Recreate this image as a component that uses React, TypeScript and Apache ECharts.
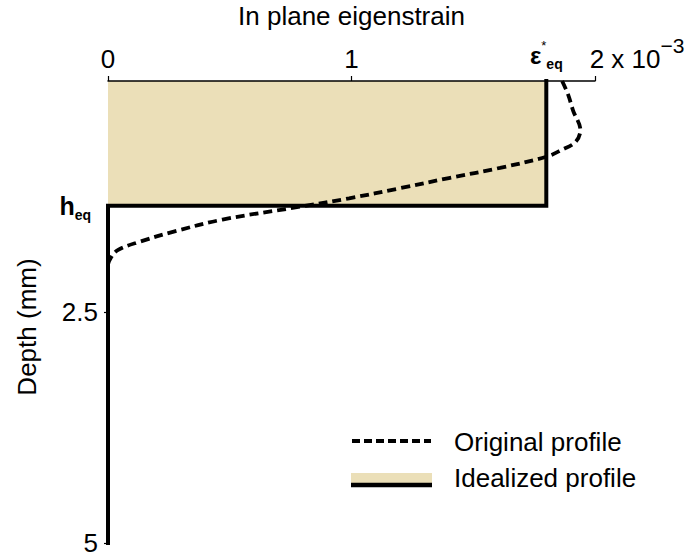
import React, { useEffect, useRef } from "react";
import * as echarts from "echarts";

// Original (measured) eigenstrain profile, in units of 1e-3, against depth in mm
const ORIGINAL_DEPTH = [0, 0.15, 0.32, 0.53, 0.66, 0.75, 0.82, 0.94, 1.05, 1.16, 1.27, 1.36, 1.5, 1.63, 1.74, 1.83, 1.92, 2.0, 5];
const ORIGINAL_EPS = [1.865, 1.89, 1.91, 1.94, 1.92, 1.86, 1.8, 1.61, 1.4, 1.2, 0.99, 0.79, 0.47, 0.27, 0.13, 0.04, 0.01, 0, 0];

// Idealized step profile: eps_eq down to h_eq, zero below
const EPS_EQ = 1.8;
const H_EQ = 1.35;
const IDEAL_EPS = [EPS_EQ, EPS_EQ, 0, 0];
const IDEAL_DEPTH = [0, H_EQ, H_EQ, 5];

// Axis ranges / tick steps
const X_MIN = 0;
const X_MAX = 2;
const X_STEP = 1;
const Y_MIN = 0;
const Y_MAX = 5;
const Y_STEP = 2.5;

const LEGEND_LABELS = ["Original profile", "Idealized profile"];

const FONT = "'Liberation Sans', Arial, Helvetica, sans-serif";
const FS = 26;
const FILL = "#EBDFB8";

export default function App() {
  const ref = useRef<HTMLDivElement>(null);

  useEffect(() => {
    if (!ref.current) return;
    const chart = echarts.init(ref.current, undefined, { renderer: "svg" });

    const idealData = IDEAL_EPS.map((e, i) => {
      const item: any = { value: [e, IDEAL_DEPTH[i]] };
      if (i === 0) {
        item.label = {
          show: true,
          position: "top",
          distance: 10,
          formatter: "{e|ε}{s|*}{q|eq}",
          rich: {
            e: { fontSize: 24, fontWeight: "bold", color: "#000", fontFamily: FONT, lineHeight: 32 },
            s: { fontSize: 13, color: "#000", fontFamily: FONT, verticalAlign: "top" },
            q: { fontSize: 14, fontWeight: "bold", color: "#000", fontFamily: FONT, verticalAlign: "bottom" },
          },
        };
      }
      if (i === 2) {
        item.label = {
          show: true,
          position: "left",
          distance: 17,
          formatter: "{h|h}{q|eq}",
          rich: {
            h: { fontSize: 25, fontWeight: "bold", color: "#000", fontFamily: FONT, lineHeight: 32 },
            q: { fontSize: 14, fontWeight: "bold", color: "#000", fontFamily: FONT, verticalAlign: "bottom" },
          },
        };
      }
      return item;
    });

    const option: any = {
      animation: false,
      backgroundColor: "#fff",
      grid: { left: 108, right: 91, top: 81, bottom: 17, containLabel: false, outerBoundsMode: "none" },
      xAxis: {
        type: "value",
        position: "top",
        min: X_MIN,
        max: X_MAX,
        interval: X_STEP,
        z: 5,
        name: "In plane eigenstrain",
        nameLocation: "middle",
        nameGap: 52,
        nameMoveOverlap: false,
        nameTextStyle: { color: "#000", fontSize: FS, fontFamily: FONT },
        axisLine: { show: true, lineStyle: { color: "#000", width: 1.5 } },
        axisTick: { show: true, length: 5, lineStyle: { color: "#000", width: 1.2 } },
        splitLine: { show: false },
        axisLabel: {
          color: "#000",
          fontSize: FS,
          fontFamily: FONT,
          margin: 9,
          formatter: (v: number) => (v === X_MAX ? `{pad|}{n|${v} x 10}{sup|−3}` : String(v)),
          rich: {
            pad: { width: 84 },
            n: { fontSize: FS, fontFamily: FONT, color: "#000", lineHeight: 37, verticalAlign: "bottom" },
            sup: { fontSize: 21, fontFamily: FONT, color: "#000", verticalAlign: "top" },
          },
        },
      },
      yAxis: {
        type: "value",
        inverse: true,
        min: Y_MIN,
        max: Y_MAX,
        interval: Y_STEP,
        z: 5,
        name: "Depth (mm)",
        nameLocation: "middle",
        nameGap: 68,
        nameMoveOverlap: false,
        nameTextStyle: { color: "#000", fontSize: FS, fontFamily: FONT, padding: [0, 30, 0, 0] },
        axisLine: { show: false },
        axisTick: { show: true, length: 4, lineStyle: { color: "#000", width: 1.2 } },
        splitLine: { show: false },
        axisLabel: {
          color: "#000",
          fontSize: FS,
          fontFamily: FONT,
          margin: 10,
          showMinLabel: false,
        },
      },
      series: [
        {
          name: LEGEND_LABELS[1],
          type: "line",
          data: idealData,
          symbol: "circle",
          symbolSize: 0,
          showSymbol: true,
          z: 3,
          lineStyle: { color: "#000", width: 4, cap: "square", join: "miter" },
          itemStyle: { color: "#000" },
          markArea: {
            silent: true,
            itemStyle: { color: FILL },
            data: [[{ coord: [X_MIN, IDEAL_DEPTH[0]] }, { coord: [IDEAL_EPS[1], IDEAL_DEPTH[1]] }]],
          },
        },
        {
          name: LEGEND_LABELS[0],
          type: "line",
          data: ORIGINAL_EPS.map((e, i) => [e, ORIGINAL_DEPTH[i]]),
          symbol: "none",
          smooth: 0.35,
          z: 4,
          lineStyle: { color: "#000", width: 3.8, type: [9, 5] },
        },
      ],
      graphic: [
        {
          type: "line",
          shape: { x1: 352, y1: 441, x2: 431, y2: 441 },
          style: { stroke: "#000", lineWidth: 3.8, lineDash: [8, 4] },
        },
        {
          type: "text",
          x: 454,
          y: 442,
          style: { text: LEGEND_LABELS[0], fill: "#000", fontSize: FS, fontFamily: FONT, verticalAlign: "middle" },
        },
        { type: "rect", shape: { x: 351, y: 473, width: 81, height: 10 }, style: { fill: FILL } },
        {
          type: "line",
          shape: { x1: 351, y1: 485, x2: 432, y2: 485 },
          style: { stroke: "#000", lineWidth: 4.5 },
        },
        {
          type: "text",
          x: 454,
          y: 478,
          style: { text: LEGEND_LABELS[1], fill: "#000", fontSize: FS, fontFamily: FONT, verticalAlign: "middle" },
        },
      ],
    };

    chart.setOption(option);
    return () => chart.dispose();
  }, []);

  return (
    <div
      ref={ref}
      style={{ position: "fixed", left: 0, top: 0, width: 686, height: 560, background: "#fff" }}
    />
  );
}
